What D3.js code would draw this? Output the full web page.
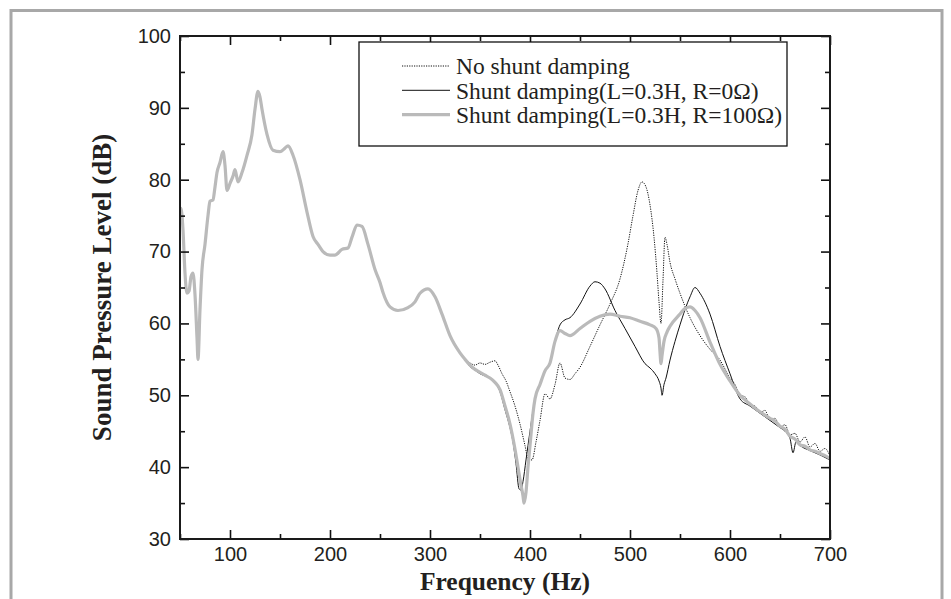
<!DOCTYPE html>
<html>
<head>
<meta charset="utf-8">
<script src="https://cdn.jsdelivr.net/npm/d3@7"></script>
<style>
  body { margin: 0; background: #fff; }
  svg { display: block; }
</style>
</head>
<body>
<svg id="chart" width="951" height="599"></svg>
<script>
// Part of the spectrum where the three measurements overlap
const commonFreq = [50, 51, 53, 55, 57, 59, 61, 63, 65, 67, 68, 70, 72, 75, 78, 80, 83, 85, 87, 90, 93, 95, 97, 100, 103, 105, 108, 112, 117, 122, 125, 128, 130, 132, 137, 143, 150, 155, 158, 163, 170, 177, 183, 188, 193, 200, 205, 212, 218, 222, 227, 232, 238, 245, 250, 253, 260, 268, 278, 285, 290, 298, 305, 312, 320, 330, 335];
const commonSpl = [74, 76, 73, 67, 64.2, 64.5, 66.5, 67, 64, 58, 55, 62, 67.5, 71, 75, 77, 77.2, 79, 81, 82.4, 83.9, 82, 78.5, 79.5, 80.5, 81.4, 79.7, 81, 83.4, 86.3, 89.8, 92.3, 91.5, 89.8, 86.3, 84.1, 83.9, 84.4, 84.7, 83.4, 80, 75.5, 72.1, 71, 70, 69.5, 69.5, 70.3, 70.5, 72, 73.7, 73.5, 71, 67.5, 65.7, 64.3, 62.3, 61.8, 62.2, 63, 64.2, 64.8, 63.7, 61.3, 58.3, 55.9, 55];

// No shunt damping (dotted)
const noShuntFreq = [340, 345, 350, 355, 360, 365, 368, 372, 376, 380, 385, 390, 395, 398, 402, 406, 410, 415, 420, 425, 430, 435, 440, 445, 450, 460, 470, 480, 490, 498, 503, 508, 512, 516, 520, 524, 527, 529, 531, 533, 535, 537, 540, 545, 550, 560, 570, 580, 590, 600, 605, 610, 615, 620, 625, 630, 635, 640, 645, 650, 655, 660, 665, 670, 675, 680, 685, 690, 695, 700];
const noShuntSpl = [54.5, 54.2, 54.5, 54.3, 54.6, 54.8, 54.2, 53, 52, 50.5, 48.5, 46, 43, 41.2, 41, 43.5, 46.5, 50.2, 49.5, 51.5, 54.5, 52.4, 52.2, 53, 53.9, 56.8, 59.8, 62.7, 66.2, 71.1, 75, 78.5, 79.7, 79, 76.5, 72, 67, 63, 60, 66, 72, 71, 68.5, 66.2, 64.2, 60.8, 58.3, 56.4, 54.9, 52.4, 51.5, 50, 49.8, 48.6, 48.5, 47.6, 47.9, 46.5, 46.8, 45.6, 45.9, 44.5, 44.7, 43.5, 44.2, 42.8, 43.3, 42.2, 42.6, 41.5];

// Shunt damping L=0.3H, R=0 (solid black)
const shuntR0Freq = [340, 345, 350, 355, 360, 365, 370, 375, 380, 383, 386, 389, 391, 393, 396, 400, 405, 410, 415, 420, 425, 430, 435, 440, 450, 460, 465, 470, 475, 485, 495, 505, 515, 520, 525, 529, 531, 532, 534, 536, 540, 545, 550, 560, 565, 570, 580, 590, 600, 610, 620, 630, 640, 650, 655, 660, 663, 666, 670, 680, 690, 700];
const shuntR0Spl = [54, 53.5, 53, 52.7, 52.4, 51.8, 50.5, 48, 45.5, 43.5, 40.5, 37, 36.8, 38, 41, 45, 49.5, 51.5, 53.4, 54.5, 57.5, 59.8, 60.5, 60.8, 62.7, 65.2, 65.8, 65.6, 64.8, 61.8, 59.3, 56.8, 54.4, 53.8, 53, 52, 51, 50, 51.5, 52.4, 54.9, 57.5, 59.8, 63.7, 65, 64.2, 61.3, 56.8, 53, 49.5, 48.5, 47.5, 46.5, 45.5, 45, 44, 42, 43.5, 43, 42.3, 41.7, 41];

// Shunt damping L=0.3H, R=100 (thick grey)
const shuntR100Freq = [340, 345, 350, 355, 360, 365, 370, 375, 380, 385, 388, 391, 393, 394, 396, 398, 400, 403, 405, 410, 415, 420, 425, 430, 435, 440, 450, 460, 470, 480, 490, 500, 510, 520, 526, 529, 530, 531, 532, 534, 537, 540, 550, 555, 560, 565, 570, 580, 590, 600, 610, 620, 630, 640, 645, 650, 655, 660, 665, 670, 675, 680, 685, 690, 695, 700];
const shuntR100Spl = [54.2, 53.6, 53.2, 52.8, 52.4, 51.8, 50.8, 48.5, 46, 42.5, 40, 37.5, 36, 35, 36.5, 40, 43, 47.5, 49.5, 51.5, 53.4, 54.5, 57.5, 59, 58.6, 58.3, 59.3, 60.3, 61, 61.3, 61, 60.8, 60.3, 59.8, 59.3, 58, 56, 54.4, 55.5, 57.5, 58.8, 59.6, 61.3, 62.1, 62.3, 61.8, 60.8, 57.4, 54.3, 52, 50, 48.8, 47.7, 46.8, 46.4, 45.7, 45.3, 44.3, 43.9, 43.1, 42.9, 42.4, 42.2, 41.9, 41.6, 41.2];

const seriesNames = ["No shunt damping", "Shunt damping(L=0.3H, R=0\u03A9)", "Shunt damping(L=0.3H, R=100\u03A9)"];
const xTicks = [100, 200, 300, 400, 500, 600, 700];
const yTicks = [30, 40, 50, 60, 70, 80, 90, 100];

function zip(f, s) {
  return f.map((d, i) => ({ f: d, v: s[i] }));
}
const common = zip(commonFreq, commonSpl);
const series = [
  { name: seriesNames[0], data: common.concat(zip(noShuntFreq, noShuntSpl)), stroke: "#111", width: 1, dash: "1.2,1.2" },
  { name: seriesNames[1], data: common.concat(zip(shuntR0Freq, shuntR0Spl)), stroke: "#111", width: 1, dash: null },
  { name: seriesNames[2], data: common.concat(zip(shuntR100Freq, shuntR100Spl)), stroke: "#bababa", width: 3.2, dash: null }
];

const svg = d3.select("#chart");
const MARGIN = { left: 180, right: 121, top: 36, bottom: 60 };
const W = 951, H = 599;

// outer grey frame
svg.append("rect")
  .attr("x", 11).attr("y", 10.5)
  .attr("width", 931).attr("height", 610)
  .attr("fill", "none")
  .attr("stroke", "#a8a8a8")
  .attr("stroke-width", 3);

const x = d3.scaleLinear().domain([50, 700]).range([MARGIN.left, W - MARGIN.right]);
const y = d3.scaleLinear().domain([30, 100]).range([H - MARGIN.bottom, MARGIN.top]);

const plotW = x.range()[1] - x.range()[0];
const plotH = y.range()[0] - y.range()[1];

const xMinor = d3.range(50, 701, 50).filter(d => d % 100 !== 0);
const yMinor = d3.range(35, 100, 10);

// clip so lines do not poke through frame
svg.append("defs").append("clipPath").attr("id", "clip")
  .append("rect").attr("x", x(50)).attr("y", y(100)).attr("width", plotW).attr("height", plotH);

const plot = svg.append("g").attr("clip-path", "url(#clip)");
const line = d3.line().x(d => x(d.f)).y(d => y(d.v)).curve(d3.curveMonotoneX);

series.forEach(s => {
  plot.append("path")
    .datum(s.data)
    .attr("d", line)
    .attr("fill", "none")
    .attr("stroke", s.stroke)
    .attr("stroke-width", s.width)
    .attr("stroke-dasharray", s.dash)
    .attr("stroke-linejoin", "round");
});

// axes with inward ticks
function styleAxis(g, showLabels) {
  g.select(".domain").remove();
  g.selectAll(".tick line").attr("stroke", "#111").attr("stroke-width", 1.6);
  g.selectAll(".tick text")
    .attr("fill", "#231f20")
    .style("font-family", "'Liberation Sans', Arial, sans-serif")
    .style("font-size", "20px");
  if (!showLabels) g.selectAll(".tick text").remove();
}

const bottom = svg.append("g").attr("transform", `translate(0,${y(30)})`);
bottom.call(d3.axisBottom(x).tickValues(xTicks).tickSize(-9).tickPadding(8).tickFormat(d3.format("d")))
  .call(g => styleAxis(g, true));
svg.append("g").attr("transform", `translate(0,${y(30)})`)
  .call(d3.axisBottom(x).tickValues(xMinor).tickSize(-5).tickFormat(""))
  .call(g => styleAxis(g, false));

svg.append("g").attr("transform", `translate(0,${y(100)})`)
  .call(d3.axisTop(x).tickValues(xTicks).tickSize(-9).tickFormat(""))
  .call(g => styleAxis(g, false));
svg.append("g").attr("transform", `translate(0,${y(100)})`)
  .call(d3.axisTop(x).tickValues(xMinor).tickSize(-5).tickFormat(""))
  .call(g => styleAxis(g, false));

const left = svg.append("g").attr("transform", `translate(${x(50)},0)`);
left.call(d3.axisLeft(y).tickValues(yTicks).tickSize(-9).tickPadding(9).tickFormat(d3.format("d")))
  .call(g => styleAxis(g, true));
svg.append("g").attr("transform", `translate(${x(50)},0)`)
  .call(d3.axisLeft(y).tickValues(yMinor).tickSize(-5).tickFormat(""))
  .call(g => styleAxis(g, false));

svg.append("g").attr("transform", `translate(${x(700)},0)`)
  .call(d3.axisRight(y).tickValues(yTicks).tickSize(-9).tickFormat(""))
  .call(g => styleAxis(g, false));
svg.append("g").attr("transform", `translate(${x(700)},0)`)
  .call(d3.axisRight(y).tickValues(yMinor).tickSize(-5).tickFormat(""))
  .call(g => styleAxis(g, false));

// plot frame
svg.append("rect")
  .attr("x", x(50)).attr("y", y(100))
  .attr("width", plotW).attr("height", plotH)
  .attr("fill", "none")
  .attr("stroke", "#1a1a1a")
  .attr("stroke-width", 2);

// axis titles
svg.append("text")
  .attr("x", (x(50) + x(700)) / 2)
  .attr("y", 590)
  .attr("text-anchor", "middle")
  .style("font-family", "'Liberation Serif', 'Times New Roman', serif")
  .style("font-weight", "bold")
  .style("font-size", "25.5px")
  .attr("fill", "#231f20")
  .text("Frequency (Hz)");

svg.append("text")
  .attr("transform", `translate(111,${(y(30) + y(100)) / 2}) rotate(-90)`)
  .attr("text-anchor", "middle")
  .style("font-family", "'Liberation Serif', 'Times New Roman', serif")
  .style("font-weight", "bold")
  .style("font-size", "27px")
  .attr("fill", "#231f20")
  .text("Sound Pressure Level (dB)");

// legend
const legend = svg.append("g");
legend.append("rect")
  .attr("x", 359).attr("y", 42)
  .attr("width", 428).attr("height", 104)
  .attr("fill", "#fff")
  .attr("stroke", "#111")
  .attr("stroke-width", 1.3);

series.forEach((s, i) => {
  const yy = 66 + i * 24.3;
  legend.append("line")
    .attr("x1", 402).attr("x2", 450)
    .attr("y1", yy).attr("y2", yy)
    .attr("stroke", s.stroke)
    .attr("stroke-width", s.width)
    .attr("stroke-dasharray", s.dash);
  legend.append("text")
    .attr("x", 456).attr("y", yy)
    .attr("dy", "0.35em")
    .style("font-family", "'Liberation Serif', 'Times New Roman', serif")
    .style("font-size", "23.5px")
    .attr("fill", "#231f20")
    .text(s.name);
});
</script>
</body>
</html>
